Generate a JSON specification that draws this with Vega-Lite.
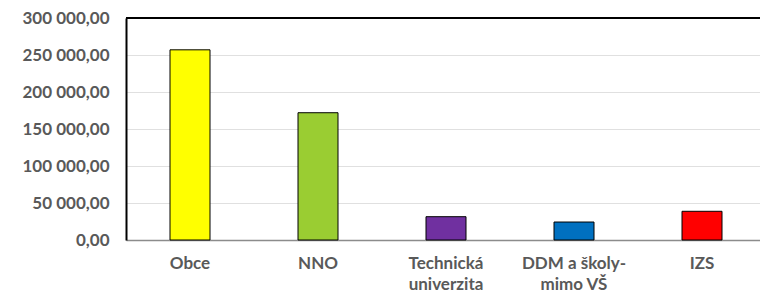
{
  "$schema": "https://vega.github.io/schema/vega-lite/v6.json",
  "width": 640,
  "height": 222,
  "autosize": {"type": "none"},
  "padding": {"left": 126, "top": 18, "right": 0, "bottom": 57},
  "config": {
    "locale": {"number": {"decimal": ",", "thousands": " ", "grouping": [3], "currency": ["", ""]}},
    "view": {"stroke": null},
    "font": "Lato"
  },
  "layer": [
    {
      "data": {"values": [
        {"kategorie": "Obce", "hodnota": 257000},
        {"kategorie": "NNO", "hodnota": 172000},
        {"kategorie": "Technická univerzita", "hodnota": 31500},
        {"kategorie": "DDM a školy-mimo VŠ", "hodnota": 24300},
        {"kategorie": "IZS", "hodnota": 38800}
      ]},
      "mark": {"type": "bar", "stroke": "#000000", "strokeWidth": 1},
      "encoding": {
        "x": {
          "field": "kategorie", "type": "nominal", "sort": null,
          "scale": {"paddingInner": 0.6875, "paddingOuter": 0.34375},
          "axis": {
            "title": null, "labelAngle": 0, "ticks": false, "labelOverlap": false,
            "domainColor": "#8c8c8c", "domainWidth": 1.5,
            "labelFont": "Lato", "labelFontWeight": "bold", "labelFontSize": 17,
            "labelColor": "#595959", "labelPadding": 15, "labelLineHeight": 21,
            "labelExpr": "datum.label == 'Technická univerzita' ? ['Technická', 'univerzita'] : datum.label == 'DDM a školy-mimo VŠ' ? ['DDM a školy-', 'mimo VŠ'] : datum.label"
          }
        },
        "y": {
          "field": "hodnota", "type": "quantitative",
          "scale": {"domain": [0, 300000], "nice": false},
          "axis": {
            "title": null, "values": [0, 50000, 100000, 150000, 200000, 250000, 300000],
            "format": ",.2f", "ticks": false, "labelOverlap": false,
            "domainColor": "#000000", "domainWidth": 2,
            "gridColor": "#e0e0e0", "gridWidth": 1,
            "labelFont": "Lato", "labelFontWeight": "bold", "labelFontSize": 17,
            "labelColor": "#595959", "labelPadding": 17
          }
        },
        "color": {
          "field": "kategorie", "type": "nominal", "sort": null, "legend": null,
          "scale": {
            "domain": ["Obce", "NNO", "Technická univerzita", "DDM a školy-mimo VŠ", "IZS"],
            "range": ["#FFFF00", "#9ACD32", "#7030A0", "#0070C0", "#FF0000"]
          }
        }
      }
    },
    {
      "data": {"values": [{"hranice": 300000}]},
      "mark": {"type": "rule", "color": "#000000", "strokeWidth": 2},
      "encoding": {"y": {
        "field": "hranice", "type": "quantitative",
        "axis": {
          "title": null, "values": [0, 50000, 100000, 150000, 200000, 250000, 300000],
          "format": ",.2f", "ticks": false, "labelOverlap": false,
          "domainColor": "#000000", "domainWidth": 2,
          "gridColor": "#e0e0e0", "gridWidth": 1,
          "labelFont": "Lato", "labelFontWeight": "bold", "labelFontSize": 17,
          "labelColor": "#595959", "labelPadding": 17
        }
      }}
    }
  ]
}
